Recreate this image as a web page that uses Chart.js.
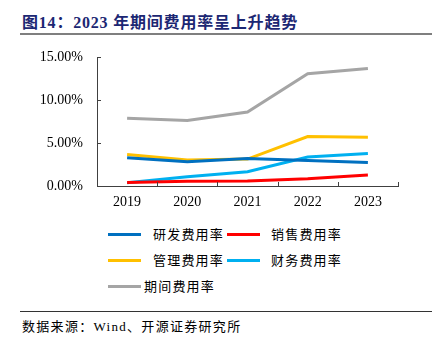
<!DOCTYPE html>
<html>
<head>
<meta charset="utf-8">
<script src="https://cdn.jsdelivr.net/npm/chart.js@4/dist/chart.umd.min.js"></script>
<style>
  body { margin: 0; width: 437px; height: 340px; background: #fff; position: relative; overflow: hidden; }
  #title { position: absolute; left: 22px; top: 9px; font: bold 16px "Liberation Serif", "Noto Sans CJK SC", serif; color: #1c2773; letter-spacing: 0.8px; white-space: nowrap; }
  #titleLine { position: absolute; left: 20px; top: 33px; width: 412px; height: 2px; background: #7f7f7f; }
  #chartBox { position: absolute; left: 0; top: 35px; width: 437px; height: 175px; }
  #legend { position: absolute; left: 0; top: 0; width: 437px; }
  .item { position: absolute; height: 20px; font: 13px "Noto Sans CJK SC", sans-serif; color: #000; letter-spacing: 1.2px; white-space: nowrap; }
  .item span.swatch { position: absolute; top: 8px; height: 3px; }
  .item span.txt { position: absolute; top: 0; line-height: 18px; }
  #srcLine { position: absolute; left: 20px; top: 311px; width: 412px; height: 1px; background: #333; }
  #source { position: absolute; left: 22px; top: 316px; font: 13px "Liberation Serif", "Noto Sans CJK SC", serif; color: #000; letter-spacing: 1.3px; white-space: nowrap; }
</style>
</head>
<body>
<div id="title">图14：2023 年期间费用率呈上升趋势</div>
<div id="titleLine"></div>
<div id="chartBox"><canvas id="costChart" width="437" height="175"></canvas></div>
<div id="legend"></div>
<div id="srcLine"></div>
<div id="source">数据来源：Wind、开源证券研究所</div>
<script>
// data (percent)
const years = ['2019', '2020', '2021', '2022', '2023'];
const rdRate = [3.29, 2.83, 3.21, 2.98, 2.75];
const salesRate = [0.42, 0.55, 0.58, 0.85, 1.28];
const adminRate = [3.68, 3.02, 3.14, 5.77, 5.69];
const financeRate = [0.39, 1.08, 1.66, 3.37, 3.79];
const periodRate = [7.90, 7.63, 8.63, 13.09, 13.70];
const yTicks = [0, 5, 10, 15];

const series = [
    { label: '研发费用率', data: rdRate, color: '#0070c0' },
    { label: '销售费用率', data: salesRate, color: '#ff0000' },
    { label: '管理费用率', data: adminRate, color: '#ffc000' },
    { label: '财务费用率', data: financeRate, color: '#00b0f0' },
    { label: '期间费用率', data: periodRate, color: '#a5a5a5' }
];

// small inward ticks on both axes
const innerTicks = {
    id: 'innerTicks',
    afterDraw(chart) {
        const ctx = chart.ctx;
        const x = chart.scales.x;
        const y = chart.scales.y;
        ctx.save();
        ctx.strokeStyle = '#404040';
        ctx.lineWidth = 1;
        ctx.beginPath();
        yTicks.forEach(v => {
            const py = Math.round(y.getPixelForValue(v)) + 0.5;
            ctx.moveTo(x.left, py);
            ctx.lineTo(x.left + 4, py);
        });
        const step = x.getPixelForValue(1) - x.getPixelForValue(0);
        for (let i = 0; i < years.length; i++) {
            const px = Math.round(x.getPixelForValue(i) + step / 2) + 0.5;
            ctx.moveTo(px, y.bottom);
            ctx.lineTo(px, y.bottom - 4);
        }
        ctx.stroke();
        ctx.restore();
    }
};

const tickFont = { family: '"Liberation Serif", serif', size: 14 };

new Chart(document.getElementById('costChart'), {
    type: 'line',
    data: {
        labels: years,
        datasets: series.map(s => ({
            label: s.label,
            data: s.data,
            borderColor: s.color,
            backgroundColor: s.color,
            borderWidth: 3,
            pointRadius: 0,
            tension: 0,
            fill: false
        }))
    },
    options: {
        responsive: false,
        animation: false,
        layout: { padding: { top: 7, right: 39, left: 0, bottom: 0 } },
        plugins: { legend: { display: false }, tooltip: { enabled: false } },
        scales: {
            x: {
                offset: true,
                grid: { display: false, drawTicks: false },
                border: { display: true, color: '#404040', width: 1 },
                ticks: { color: '#000', font: tickFont, padding: 8, maxRotation: 0 },
                afterFit(scale) { scale.height = 24; }
            },
            y: {
                min: 0,
                max: 15,
                grid: { display: false, drawTicks: false },
                border: { display: true, color: '#404040', width: 1 },
                afterBuildTicks(scale) { scale.ticks = yTicks.map(v => ({ value: v })); },
                ticks: {
                    color: '#000',
                    font: tickFont,
                    padding: 14,
                    callback: v => v.toFixed(2) + '%'
                },
                afterFit(scale) { scale.width = 97; }
            }
        }
    },
    plugins: [innerTicks]
});

// legend laid out like the original (two columns, last row alone)
const legendPos = [
    { left: 108, top: 225, gap: 45 },
    { left: 227, top: 225, gap: 44 },
    { left: 108, top: 251, gap: 45 },
    { left: 227, top: 251, gap: 44 },
    { left: 108, top: 277, gap: 36 }
];
const legendEl = document.getElementById('legend');
series.forEach((s, i) => {
    const p = legendPos[i];
    const item = document.createElement('div');
    item.className = 'item';
    item.style.left = p.left + 'px';
    item.style.top = p.top + 'px';
    item.innerHTML = `<span class="swatch" style="left:0;width:33px;background:${s.color}"></span>` +
        `<span class="txt" style="left:${p.gap}px">${s.label}</span>`;
    legendEl.appendChild(item);
});
</script>
</body>
</html>
